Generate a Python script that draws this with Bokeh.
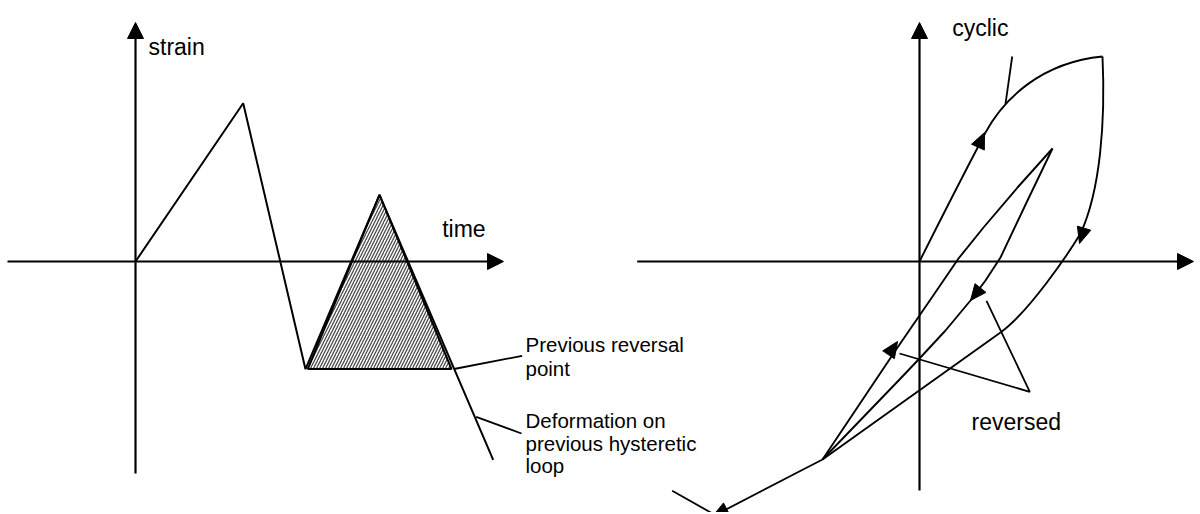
import numpy as np
from bokeh.plotting import figure
from bokeh.models import Range1d
from bokeh.core.properties import value
from bokeh.embed import file_html
from bokeh.resources import INLINE

# ---------------- data (page pixel coordinates) ----------------
# left panel: strain history
left_yaxis_x = [135, 135]
left_yaxis_y = [473, 30]
left_xaxis_x = [7, 490]
left_xaxis_y = [261, 261]
strain_t = [135, 242.7, 305, 379, 492.7]
strain_v = [261, 102.7, 368.7, 194.3, 459.3]
hatch_t = [307.3, 379, 451]
hatch_v = [368.5, 194.3, 368.5]
prev_leader_x = [453.5, 521.7]
prev_leader_y = [368.5, 355.3]
deform_leader_x = [475.7, 521]
deform_leader_y = [416.3, 433]

# right panel: hysteresis loops
right_yaxis_x = [919, 919]
right_yaxis_y = [490, 30]
right_xaxis_x = [636.7, 1180]
right_xaxis_y = [261, 261]
# outer loop as cubic bezier segments
outer_x0 = [919, 985, 1102, 1080, 1000]
outer_y0 = [261, 132, 56, 233, 332]
outer_cx0 = [940, 1003, 1105, 1068, 941]
outer_cy0 = [219, 99, 120, 253, 374]
outer_cx1 = [962, 1040, 1100, 1028, 881]
outer_cy1 = [176, 62, 190, 312, 417]
outer_x1 = [985, 1102, 1080, 1000, 822]
outer_y1 = [132, 56, 233, 332, 459]
# inner loop
inner_up_x = [822, 897, 930, 958, 983, 1017, 1052]
inner_up_y = [459, 347, 299, 258, 227, 187, 148]
inner_down_x = [1052, 1027, 1000, 985, 970, 945, 919, 900, 822]
inner_down_y = [148, 200, 257, 280, 300, 330, 358, 378, 459]
# other strokes
bottom_x = [822, 712]
bottom_y = [459, 516]
bottom_tick_x = [671.7, 712]
bottom_tick_y = [490.3, 513]
cyclic_leader_x = [1011.7, 1005]
cyclic_leader_y = [56, 103.3]
reversed_leader_x = [986, 1029.3, 899]
reversed_leader_y = [300.3, 391.3, 353]

# arrowheads: tip and pointing direction
arrow_tip_x = [135, 503, 919, 1193, 984, 1079, 970, 897, 712]
arrow_tip_y = [22, 261, 22, 261, 132, 243, 300, 341, 516]
arrow_dir_x = [0, 1, 0, 1, 0.45, -0.3, -0.8, 0.673, -0.89]
arrow_dir_y = [-1, 0, -1, 0, -1, 1, 1, -1, 0.46]
arrow_len = [16, 16, 16, 16, 16, 16, 16, 16, 16]
arrow_half = [8, 8, 8, 8, 7, 7, 7, 7, 7]

# texts
label_text = ["strain", "time", "cyclic", "reversed"]
label_x = [148, 441.7, 951.7, 971]
label_y = [46, 228, 27, 421.7]
note_text = ["Previous reversal", "point", "Deformation on", "previous hysteretic", "loop"]
note_x = [525, 525, 525, 525, 525]
note_y = [344.3, 367.5, 420.3, 442.8, 465.3]

# ---------------- figure ----------------
W, H = 1198, 512
p = figure(width=W, height=H, x_range=Range1d(0, W), y_range=Range1d(H, 0),
           output_backend="svg", toolbar_location=None, min_border=0,
           x_axis_type=None, y_axis_type=None)
p.grid.visible = False
p.outline_line_color = None
p.background_fill_color = "white"
p.border_fill_color = "white"

# hatched triangle
p.patch(hatch_t, hatch_v, fill_color="white", hatch_pattern="/", hatch_color="#4a4a4a",
        hatch_scale=6, hatch_weight=1.3, line_color="black", line_width=2)

# axes
p.multi_line([left_yaxis_x, left_xaxis_x, right_yaxis_x, right_xaxis_x],
             [left_yaxis_y, left_xaxis_y, right_yaxis_y, right_xaxis_y],
             line_color="black", line_width=2.2)

# strain path and leaders
p.line(strain_t, strain_v, line_color="black", line_width=2)
p.multi_line([prev_leader_x, deform_leader_x, bottom_x, bottom_tick_x, cyclic_leader_x, reversed_leader_x],
             [prev_leader_y, deform_leader_y, bottom_y, bottom_tick_y, cyclic_leader_y, reversed_leader_y],
             line_color="black", line_width=1.8)

# loops
p.bezier(x0=outer_x0, y0=outer_y0, x1=outer_x1, y1=outer_y1,
         cx0=outer_cx0, cy0=outer_cy0, cx1=outer_cx1, cy1=outer_cy1,
         line_color="black", line_width=1.9)
p.multi_line([inner_up_x, inner_down_x], [inner_up_y, inner_down_y],
             line_color="black", line_width=1.9, line_join="round")

# arrowheads
xs, ys = [], []
for tx, ty, dx, dy, L, Wd in zip(arrow_tip_x, arrow_tip_y, arrow_dir_x, arrow_dir_y, arrow_len, arrow_half):
    d = np.array([dx, dy], float)
    d /= np.linalg.norm(d)
    n = np.array([-d[1], d[0]])
    b = np.array([tx, ty]) - L * d
    c1 = b + Wd * n
    c2 = b - Wd * n
    xs.append([tx, c1[0], c2[0]])
    ys.append([ty, c1[1], c2[1]])
p.patches(xs, ys, fill_color="black", line_color="black", line_width=1)

# texts
p.text(x=label_x, y=label_y, text=label_text, text_font=value("Liberation Sans"),
       text_font_size="23px", text_baseline="alphabetic", text_align="left", text_color="black")
p.text(x=note_x, y=note_y, text=note_text, text_font=value("Liberation Sans"),
       text_font_size="20.5px", text_baseline="alphabetic", text_align="left", text_color="black")

open("out.html", "w").write(file_html(p, INLINE))
